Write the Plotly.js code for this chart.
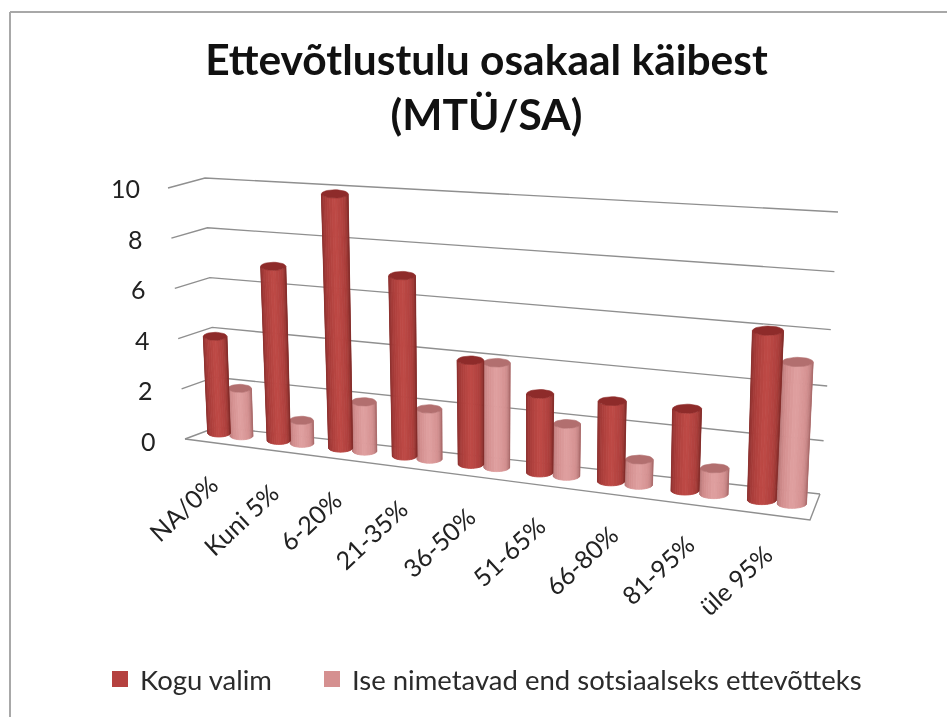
<!DOCTYPE html>
<html>
<head>
<meta charset="utf-8">
<script src="https://cdn.plot.ly/plotly-3.0.1.min.js"></script>
<style>html,body{margin:0;padding:0;background:#fff}#c{width:947px;height:717px;filter:blur(0.45px)}</style>
</head>
<body>
<div id="c"></div>
<script>
const categories = ["NA/0%","Kuni 5%","6-20%","21-35%","36-50%","51-65%","66-80%","81-95%","üle 95%"];
const koguValim = [4,7,10,7,4,3,3,3,6];
const iseNimetavad = [2,1,2,2,4,2,1,1,5];
const seriesNames = ["Kogu valim","Ise nimetavad end sotsiaalseks ettevõtteks"];
const yTicks = [0,2,4,6,8,10];
const titleText = "Ettevõtlustulu osakaal käibest<br>(MTÜ/SA)";

const W = 947, H = 717;
const FONT = "Lato, Carlito, Calibri, sans-serif";
const SERIES_STEP = 0.38, STRIPS = 16;
const darkStops  = ["#802a28","#a83c39","#bf4a46","#ad3f3c","#7e2927"];
const lightStops = ["#a96b6b","#d18c8c","#e0a0a0","#d39090","#a56666"];
const darkCap = "#8e2b2a", lightCap = "#b26f6f", legendColors = ["#b5413f","#d59090"];

// the chart's 3D look: perspective projection of a position along the floor
const depth = p => 1/(1-0.01675*p);
const floorX = p => (55.1*p+219)*depth(p);
const floorPx = p => 433*depth(p);
const unitPx = p => 24.8*depth(p);
// y axis is in value units: 0 sits 441 px from the top, one unit is 25.3 px
const Y = px => (441-px)/25.3;

function hex(c){return [1,3,5].map(i=>parseInt(c.substr(i,2),16));}
function shade(stops,t){
  const f=t*(stops.length-1), i=Math.min(Math.floor(f),stops.length-2), u=f-i;
  const a=hex(stops[i]), b=hex(stops[i+1]);
  return "rgb("+a.map((v,k)=>Math.round(v+(b[k]-v)*u)).join(",")+")";
}
function cyl(p,v){
  const x0=floorX(p), y0=floorPx(p), h=v*unitPx(p)-2.5;
  const r=11.3*Math.pow(depth(p),1.7);
  return {x0,y0,xt:x0+(x0-505)*0.00014*h,yt:y0-h,rb:r,rt:r*(1+h*0.00045),ry:4*depth(p)};
}
function cylinderTraces(values,stops,capColor,seriesIndex){
  const out=[];
  for(let j=0;j<STRIPS;j++){
    const a0=Math.PI*(1-j/STRIPS), a1=Math.PI*(1-(j+1)/STRIPS);
    const xs=[], ys=[];
    values.forEach((v,i)=>{
      const c=cyl(i+seriesIndex*SERIES_STEP,v);
      xs.push(c.xt+c.rt*Math.cos(a0),c.xt+c.rt*Math.cos(a1),c.x0+c.rb*Math.cos(a1),c.x0+c.rb*Math.cos(a0),c.xt+c.rt*Math.cos(a0),null);
      ys.push(Y(c.yt+c.ry*Math.sin(a0)),Y(c.yt+c.ry*Math.sin(a1)),Y(c.y0+c.ry*Math.sin(a1)),Y(c.y0+c.ry*Math.sin(a0)),Y(c.yt+c.ry*Math.sin(a0)),null);
    });
    const col=shade(stops,(j+0.5)/STRIPS);
    out.push({type:"scatter",mode:"lines",x:xs,y:ys,fill:"toself",fillcolor:col,line:{color:col,width:0.8},hoverinfo:"skip",showlegend:false});
  }
  const xs=[], ys=[];
  values.forEach((v,i)=>{
    const c=cyl(i+seriesIndex*SERIES_STEP,v);
    for(let k=0;k<=32;k++){const a=2*Math.PI*k/32;xs.push(c.xt+c.rt*Math.cos(a));ys.push(Y(c.yt+c.ry*Math.sin(a)));}
    xs.push(null);ys.push(null);
  });
  out.push({type:"scatter",mode:"lines",x:xs,y:ys,fill:"toself",fillcolor:capColor,line:{color:capColor,width:0.6},hoverinfo:"skip",showlegend:false});
  return out;
}
// walls and floor
const gx=[], gy=[];
yTicks.forEach(v=>{
  gx.push(185-1.7*v,217-1.2*v,820+1.8*v,null);
  gy.push(Y(439-25.1*v),Y(427-24.9*v),Y(494-26.2*v-0.2*v*v),null);
});
gx.push(185,810,820); gy.push(Y(439),Y(520),Y(494));
const gridTrace={type:"scatter",mode:"lines",x:gx,y:gy,line:{color:"#8f8f8f",width:1.4},hoverinfo:"skip",showlegend:false};

const traces=[gridTrace]
  .concat(cylinderTraces(iseNimetavad,lightStops,lightCap,1))
  .concat(cylinderTraces(koguValim,darkStops,darkCap,0));
seriesNames.forEach((n,k)=>traces.push({type:"scatter",mode:"markers",x:[null],y:[null],name:n,legend:k?"legend2":"legend",
  marker:{symbol:"square",size:16,color:legendColors[k]},hoverinfo:"skip"}));

const annotations=[];
yTicks.forEach(v=>annotations.push({xref:"x",yref:"y",x:158-1.6*v,y:v,text:String(v),showarrow:false,
  xanchor:"right",yanchor:"middle",font:{family:FONT,size:25,color:"#222"}}));
categories.forEach((c,i)=>annotations.push({xref:"x",yref:"y",x:floorX(i+0.05)+4+1.3*i,y:Y(floorPx(i)+33+0.4*i),text:c,showarrow:false,textangle:-43,
  xanchor:"right",yanchor:"top",font:{family:FONT,size:25,color:"#222"}}));

const legendBase={orientation:"h",yanchor:"middle",y:1-679/H,xanchor:"left",font:{family:FONT,size:27.5,color:"#2b2b2b"},
  itemsizing:"trace",bgcolor:"rgba(0,0,0,0)"};
const layout={
  width:W,height:H,margin:{l:0,r:0,t:0,b:0},paper_bgcolor:"#fff",plot_bgcolor:"#fff",
  title:{text:titleText,x:486.5/W,xanchor:"center",y:1-75/H,yanchor:"top",font:{family:FONT,size:42.5,weight:700,color:"#111"}},
  xaxis:{range:[0,W],visible:false,fixedrange:true},
  yaxis:{range:[Y(H),Y(0)],visible:false,fixedrange:true},
  legend:Object.assign({},legendBase,{x:100/W}),
  legend2:Object.assign({},legendBase,{x:312/W}),
  annotations,
  shapes:[
    {type:"line",xref:"paper",yref:"paper",x0:10/W,x1:10/W,y0:0,y1:1-12/H,line:{color:"#a8a8a8",width:2}},
    {type:"line",xref:"paper",yref:"paper",x0:10/W,x1:1,y0:1-12/H,y1:1-12/H,line:{color:"#a8a8a8",width:2}}
  ]
};
Plotly.newPlot("c",traces,layout,{displayModeBar:false,staticPlot:true});
</script>
</body>
</html>
